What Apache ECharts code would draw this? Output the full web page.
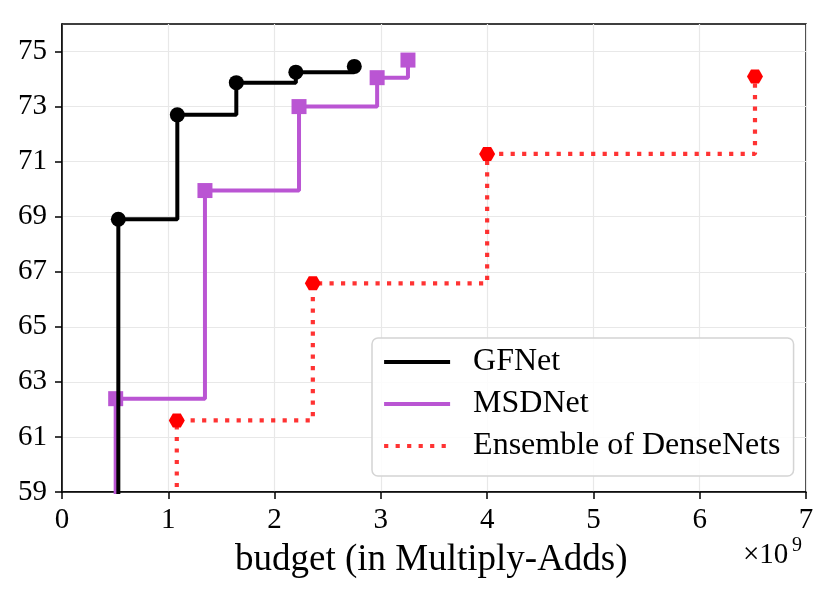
<!DOCTYPE html>
<html>
<head>
<meta charset="utf-8">
<script src="https://cdn.jsdelivr.net/npm/echarts@6/dist/echarts.min.js"></script>
<style>
  html, body { margin: 0; padding: 0; background: #fff; }
  #chart { width: 831px; height: 598px; }
</style>
</head>
<body>
<div id="chart"></div>
<script>
// budget in units of 1e9 Multiply-Adds, accuracy in %
const gfBudget = [0.53, 1.085, 1.64, 2.20, 2.75];
const gfAcc = [68.91, 72.70, 73.87, 74.25, 74.46];
const msdBudget = [0.505, 1.345, 2.23, 2.965, 3.255];
const msdAcc = [62.39, 69.95, 73.00, 74.05, 74.69];
const ensBudget = [1.08, 2.36, 4.00, 6.52];
const ensAcc = [61.60, 66.58, 71.28, 74.09];

const xTicks = [0, 1, 2, 3, 4, 5, 6, 7];
const yTicks = [59, 61, 63, 65, 67, 69, 71, 73, 75];
const yFloor = 55; // lines run down past the bottom of the axis

const font = 'Liberation Serif';
const hexagon = 'path://M0,43.3L25,0L75,0L100,43.3L75,86.6L25,86.6Z';

// first point sits below the axis so the step line drops off the bottom
function stepData(xs, ys) {
  const out = [{ value: [xs[0], yFloor], symbol: 'none' }];
  xs.forEach((x, i) => out.push([x, ys[i]]));
  return out;
}

const chart = echarts.init(document.getElementById('chart'));

chart.setOption({
  animation: false,
  grid: {
    left: 62, right: 25, top: 24, bottom: 106,
    show: true, borderColor: '#000', borderWidth: 1.5
  },
  xAxis: {
    type: 'value', min: 0, max: 7, interval: 1,
    axisLine: { show: true, lineStyle: { color: '#000', width: 1.5 } },
    axisTick: { show: true, length: 7, lineStyle: { color: '#000', width: 1.5 } },
    axisLabel: {
      margin: 14, color: '#000', fontFamily: font, fontSize: 29,
      customValues: xTicks
    },
    splitLine: { show: true, lineStyle: { color: '#e8e8e8', width: 1.2 } }
  },
  yAxis: {
    type: 'value', min: 59, max: 76, interval: 2,
    axisLine: { show: true, lineStyle: { color: '#000', width: 1.5 } },
    axisTick: {
      show: true, length: 7, lineStyle: { color: '#000', width: 1.5 },
      customValues: yTicks
    },
    axisLabel: {
      margin: 15, color: '#000', fontFamily: font, fontSize: 29,
      customValues: yTicks
    },
    splitLine: { show: true, lineStyle: { color: '#e8e8e8', width: 1.2 } }
  },
  legend: {
    orient: 'vertical',
    left: 372, top: 338,
    padding: [3, 13, 9, 10],
    itemWidth: 66, itemHeight: 14, itemGap: 0,
    backgroundColor: 'rgba(255,255,255,0.85)',
    borderColor: '#d4d4d4', borderWidth: 1.5, borderRadius: 6,
    itemStyle: { opacity: 0 },
    lineStyle: { width: 4.2 },
    textStyle: {
      fontFamily: font, fontSize: 32, color: '#000',
      lineHeight: 42, padding: [0, 0, 0, 18]
    },
    data: ['GFNet', 'MSDNet', 'Ensemble of DenseNets']
  },
  graphic: [
    {
      type: 'text', left: 235, top: 542,
      style: { text: 'budget (in Multiply-Adds)', fontFamily: font, fontSize: 37, fill: '#000' }
    },
    {
      type: 'text', left: 743, top: 541,
      style: { text: '×10', fontFamily: font, fontSize: 29, fill: '#000' }
    },
    {
      type: 'text', left: 792, top: 536,
      style: { text: '9', fontFamily: font, fontSize: 20, fill: '#000' }
    }
  ],
  series: [
    {
      name: 'GFNet', type: 'line', step: 'end', z: 5,
      data: stepData(gfBudget, gfAcc),
      symbol: 'circle', symbolSize: 15,
      itemStyle: { color: '#000' },
      lineStyle: { color: '#000', width: 4 }
    },
    {
      name: 'MSDNet', type: 'line', step: 'end', z: 4,
      data: stepData(msdBudget, msdAcc),
      symbol: 'rect', symbolSize: 15,
      itemStyle: { color: '#ba55d3' },
      lineStyle: { color: '#ba55d3', width: 4 }
    },
    {
      name: 'Ensemble of DenseNets', type: 'line', step: 'end', z: 3,
      data: stepData(ensBudget, ensAcc),
      symbol: hexagon, symbolSize: [16, 14],
      itemStyle: { color: '#ff0000' },
      lineStyle: { color: 'rgba(255,0,0,0.8)', width: 4.2, type: [4.2, 7.3], cap: 'butt' }
    }
  ]
});
</script>
</body>
</html>
